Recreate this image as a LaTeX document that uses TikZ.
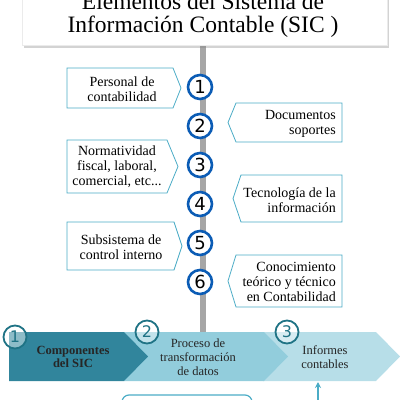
\documentclass[tikz,border=0pt]{standalone}
\usepackage{fontspec}
\setmainfont{Liberation Serif}
\newfontfamily\numfont{DejaVu Sans}
\usetikzlibrary{shadows,arrows.meta}
\definecolor{boxline}{HTML}{4BACC6}
\definecolor{numblue}{HTML}{0B5CB5}
\definecolor{rib1}{HTML}{31859C}
\definecolor{rib2}{HTML}{92CDDC}
\definecolor{rib3}{HTML}{B7DEE8}
\definecolor{ribline}{HTML}{1F7385}
\definecolor{spine}{HTML}{A6A6A6}
\tikzset{
  callout/.style={draw=boxline, line width=0.8pt, fill=white},
  lefttext/.style={align=center, font=\fontsize{14}{15}\selectfont, inner sep=0pt},
  righttext/.style={align=right, font=\fontsize{14}{15}\selectfont, inner sep=0pt, anchor=east},
  numcircle/.style={circle, draw=numblue, line width=2.6pt, fill=white, minimum size=24pt, inner sep=0pt, font=\numfont\fontsize{18}{18}\selectfont},
  ribcircle/.style={circle, draw=ribline, line width=1.8pt, fill=white, fill opacity=0.45, text opacity=1, minimum size=23pt, inner sep=0pt, text=ribline, font=\numfont\fontsize{16}{16}\selectfont},
  ribtext/.style={align=center, font=\fontsize{12.5}{14}\selectfont, inner sep=0pt, text=black!85},
}
\begin{document}
\begin{tikzpicture}[x=1pt,y=-1pt]
\useasboundingbox (0,0) rectangle (400,400);
\clip (0,0) rectangle (400,400);
% spine
\coordinate (spinetop) at (203,45);
\coordinate (spinebot) at (203,333);
\draw[spine, line width=6pt] (spinetop) -- (spinebot);
% title
\node[draw=black!8, fill=white, drop shadow={shadow xshift=1.5pt, shadow yshift=-2.5pt, opacity=0.35}, minimum width=365pt, minimum height=52pt, inner sep=0pt] (titlebox) at (204.5,19) {};
\node[align=center, font=\fontsize{23.5}{23}\selectfont, inner sep=0pt] (title) at (203,15) {Elementos del Sistema de\\Información Contable (SIC )};
% left callouts
\draw[callout] (67,68) -- (173,68) -- (181,88) -- (173,108) -- (67,108) -- cycle;
\node[lefttext] (t1) at (122,89) {Personal de\\contabilidad};
\draw[callout] (67,140) -- (167,140) -- (178,166.5) -- (167,193) -- (67,193) -- cycle;
\node[lefttext] (t3) at (117,167) {Normatividad\\fiscal, laboral,\\comercial, etc...};
\draw[callout] (67,222) -- (174,222) -- (182,246) -- (174,270) -- (67,270) -- cycle;
\node[lefttext] (t5) at (121,247) {Subsistema de\\control interno};
% right callouts
\draw[callout] (342,103) -- (236,103) -- (228,122.5) -- (236,142) -- (342,142) -- cycle;
\node[righttext] (t2) at (336,124) {Documentos\\soportes};
\draw[callout] (342,175) -- (241,175) -- (233,198.5) -- (241,222) -- (342,222) -- cycle;
\node[righttext] (t4) at (336,200) {Tecnología de la\\información};
\draw[callout] (342,255) -- (236,255) -- (228,281) -- (236,307) -- (342,307) -- cycle;
\node[righttext] (t6) at (336,281.5) {Conocimiento\\teórico y técnico\\en Contabilidad};
% number circles
\node[numcircle] (n1) at (200,87) {1};
\node[numcircle] (n2) at (200,126) {2};
\node[numcircle] (n3) at (200,165) {3};
\node[numcircle] (n4) at (200,204) {4};
\node[numcircle] (n5) at (200,243) {5};
\node[numcircle] (n6) at (200,282) {6};
% ribbon
\fill[rib3] (263,332) -- (376,332) -- (400,356.5) -- (376,381) -- (263,381) -- cycle;
\fill[rib2] (124,332) -- (264,332) -- (288,356.5) -- (264,381) -- (124,381) -- cycle;
\fill[rib1] (9,332) -- (124,332) -- (148,356.5) -- (124,381) -- (9,381) -- cycle;
\node[ribtext, font=\bfseries\fontsize{12.5}{13.5}\selectfont] (r1) at (73,357) {Componentes\\del SIC};
\node[ribtext] (r2) at (198,357) {Proceso de\\transformación\\de datos};
\node[ribtext] (r3) at (325,357.5) {Informes\\contables};
\node[ribcircle] (c1) at (15,337) {1};
\node[ribcircle] (c2) at (147,332) {2};
\node[ribcircle] (c3) at (287,332) {3};
% bottom
\draw[boxline, line width=1.2pt, rounded corners=7pt] (122,420) -- (122,395) -- (252,395) -- (252,420);
\coordinate (arrbot) at (318,410);
\coordinate (arrtop) at (318,382);
\draw[boxline, line width=1.2pt, -{Stealth[length=6pt,width=6pt]}] (arrbot) -- (arrtop);
\end{tikzpicture}
\end{document}
